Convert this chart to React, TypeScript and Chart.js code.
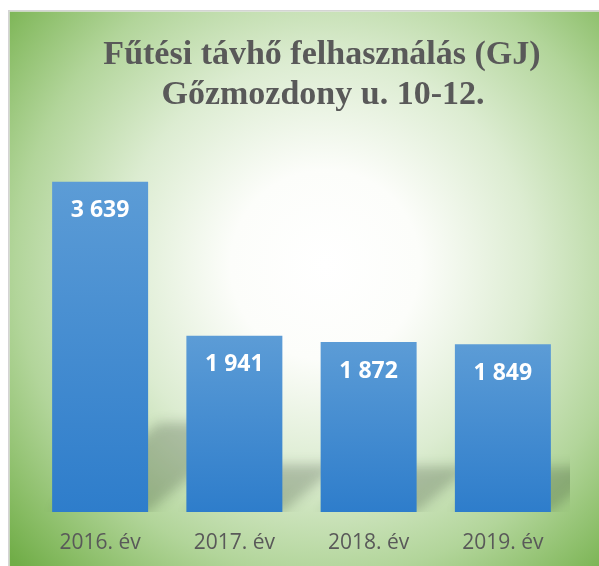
import React, { useEffect, useRef } from "react";
import { Chart, registerables } from "chart.js";

Chart.register(...registerables);

const categories = ["2016. év", "2017. év", "2018. év", "2019. év"];
const values = [3639, 1941, 1872, 1849];
const titleLines = ["Fűtési távhő felhasználás (GJ)", "Gőzmozdony u. 10-12."];
const yMax = 4000;

const W = 599;
const H = 566;

function fmt(v: number): string {
  return String(v).replace(/\B(?=(\d{3})+(?!\d))/g, " ");
}

const backgroundPlugin = {
  id: "bgFrame",
  beforeDraw(chart: any) {
    const ctx = chart.ctx;
    ctx.save();
    ctx.fillStyle = "#ffffff";
    ctx.fillRect(0, 0, chart.width, chart.height);
    const g = ctx.createRadialGradient(325, 265, 0, 325, 265, 430);
    g.addColorStop(0, "#ffffff");
    g.addColorStop(0.22, "#fcfdfa");
    g.addColorStop(0.48, "#dcecd1");
    g.addColorStop(0.72, "#b2d59a");
    g.addColorStop(0.9, "#88bc64");
    g.addColorStop(1, "#70ad47");
    ctx.fillStyle = g;
    ctx.fillRect(9.5, 11.5, chart.width - 9.5, chart.height - 11.5);
    ctx.strokeStyle = "#d4d4d4";
    ctx.lineWidth = 1.5;
    ctx.beginPath();
    ctx.moveTo(8.75, chart.height);
    ctx.lineTo(8.75, 10.75);
    ctx.lineTo(chart.width, 10.75);
    ctx.stroke();
    ctx.restore();
  },
};

const titlePlugin = {
  id: "customTitle",
  afterDraw(chart: any) {
    const ctx = chart.ctx;
    ctx.save();
    ctx.fillStyle = "#595959";
    ctx.font = "bold 34px 'Liberation Serif', 'Times New Roman', serif";
    ctx.textAlign = "center";
    ctx.textBaseline = "alphabetic";
    ctx.fillText(titleLines[0], 322, 64);
    ctx.fillText(titleLines[1], 323, 104);
    ctx.restore();
  },
};

const shadowPlugin = {
  id: "barShadow",
  beforeDatasetsDraw(chart: any) {
    const ctx = chart.ctx;
    const area = chart.chartArea;
    const meta = chart.getDatasetMeta(0);
    ctx.save();
    ctx.beginPath();
    ctx.rect(area.left, 0, area.right - area.left, area.bottom);
    ctx.clip();
    ctx.filter = "blur(6px)";
    ctx.fillStyle = "rgba(20,30,20,0.22)";
    meta.data.forEach((bar: any) => {
      const p = bar.getProps(["x", "y", "base", "width"], true);
      const h = p.base - p.y;
      const left = p.x - p.width / 2;
      const right = p.x + p.width / 2;
      const kh = 0.27 * h;
      const sx = 1.2 * kh;
      ctx.beginPath();
      ctx.moveTo(left, p.base);
      ctx.lineTo(right, p.base);
      ctx.lineTo(right + sx, p.base - kh);
      ctx.lineTo(left + sx, p.base - kh);
      ctx.closePath();
      ctx.fill();
    });
    ctx.restore();
  },
};

const labelPlugin = {
  id: "barLabels",
  afterDatasetsDraw(chart: any) {
    const ctx = chart.ctx;
    const meta = chart.getDatasetMeta(0);
    ctx.save();
    ctx.fillStyle = "#ffffff";
    ctx.font = "bold 23px 'Open Sans', sans-serif";
    ctx.textAlign = "center";
    ctx.textBaseline = "middle";
    meta.data.forEach((bar: any, i: number) => {
      const p = bar.getProps(["x", "y"], true);
      ctx.fillText(fmt(values[i]), p.x, p.y + 29);
    });
    ctx.restore();
  },
};

export default function App() {
  const ref = useRef<HTMLCanvasElement | null>(null);

  useEffect(() => {
    document.body.style.margin = "0";
    const canvas = ref.current;
    if (!canvas) return;
    const chart = new Chart(canvas, {
      type: "bar",
      data: {
        labels: categories,
        datasets: [
          {
            data: values,
            backgroundColor: (c: any) => {
              const chart = c.chart;
              if (!chart.chartArea || c.type !== "data") return "#4a8fd3";
              const ys = chart.scales.y;
              const top = ys.getPixelForValue(c.raw);
              const bottom = ys.getPixelForValue(0);
              const g = chart.ctx.createLinearGradient(0, top, 0, bottom);
              g.addColorStop(0, "#5c9cd6");
              g.addColorStop(1, "#2e7dcb");
              return g;
            },
            borderWidth: 0,
            categoryPercentage: 1,
            barPercentage: 0.715,
          },
        ],
      },
      options: {
        responsive: false,
        animation: false,
        devicePixelRatio: 1,
        layout: { padding: { left: 33, right: 29, top: 149, bottom: 0 } },
        plugins: {
          legend: { display: false },
          title: { display: false },
          tooltip: { enabled: false },
        },
        scales: {
          x: {
            grid: { display: false, drawTicks: false },
            border: { display: false },
            ticks: {
              color: "#595959",
              font: { family: "'Open Sans', sans-serif", size: 21 },
              padding: 18,
            },
            afterFit: (s: any) => {
              s.height = 54;
            },
          },
          y: {
            display: false,
            min: 0,
            max: yMax,
          },
        },
      },
      plugins: [backgroundPlugin, shadowPlugin, labelPlugin, titlePlugin],
    });
    return () => chart.destroy();
  }, []);

  return (
    <div style={{ width: W, height: H, overflow: "hidden" }}>
      <canvas ref={ref} width={W} height={H} style={{ display: "block", width: W, height: H }} />
    </div>
  );
}
